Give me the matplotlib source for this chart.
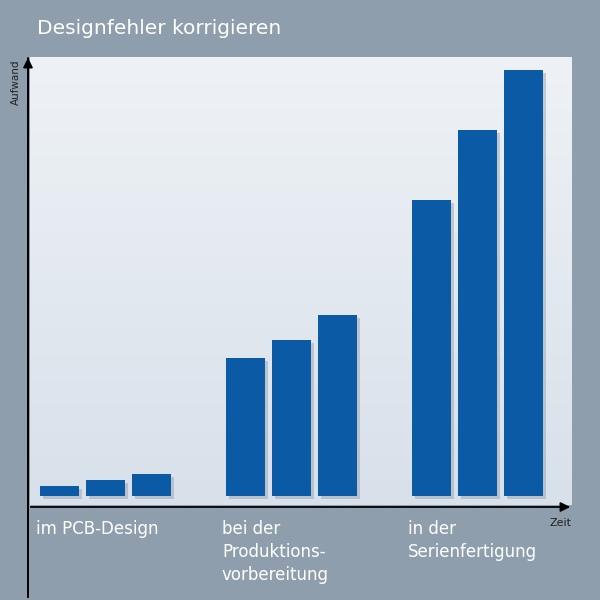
import numpy as np
import matplotlib
matplotlib.use("Agg")
import matplotlib.pyplot as plt

groups = ["im PCB-Design", "bei der\nProduktions-\nvorbereitung", "in der\nSerienfertigung"]
values = [[10, 16, 22], [138, 156, 181], [296, 366, 426]]

BG = "#8f9eac"
BAR = "#0a5aa6"

fig = plt.figure(figsize=(6, 6), dpi=100, facecolor=BG)
ax = fig.add_axes([30 / 600, 95 / 600, 542 / 600, 448 / 600])
ax.set_xlim(-29, 513)
ax.set_ylim(-9, 439)
grad = np.linspace(0, 1, 256).reshape(-1, 1)
ax.imshow(grad, extent=[-29, 513, -9, 439], aspect="auto", cmap=matplotlib.colors.LinearSegmentedColormap.from_list("p", ["#d8e0ea", "#eef2f6"]), origin="lower", zorder=0)
for g, vals in enumerate(values):
    for i, v in enumerate(vals):
        x = g * 186 + i * 46
        ax.bar(x + 3, v, width=39, bottom=-3, color="#9aa3ad", alpha=0.5, zorder=1)
        ax.bar(x, v, width=39, color=BAR, zorder=2)
    fig.text((30 + g * 186 - 29 + 10 + 30 - 30 + (0 if g == 0 else 0)) / 600 + 0.0, 0, "")
for s in ax.spines.values():
    s.set_visible(False)
ax.set_xticks([])
ax.set_yticks([])

# axis arrows
fig.patches.append(matplotlib.patches.FancyArrowPatch((28, 600 - 600), (28, 600 - 55), transform=None))
ar = dict(arrowstyle="-|>", color="black", lw=1.3, mutation_scale=14)
fig.add_artist(matplotlib.patches.FancyArrowPatch((28 / 600, 0.0), (28 / 600, 545 / 600), transform=fig.transFigure, **ar))
fig.add_artist(matplotlib.patches.FancyArrowPatch((28 / 600, 93 / 600), (573 / 600, 93 / 600), transform=fig.transFigure, **ar))

fig.text(37 / 600, 1 - 28 / 600, "Designfehler korrigieren", color="white", fontsize=14.5, va="center")
fig.text(16 / 600, 1 - 82 / 600, "Aufwand", color="#222222", fontsize=7.5, rotation=90, ha="center", va="center")
fig.text(560 / 600, 1 - 523 / 600, "Zeit", color="#222222", fontsize=8, ha="center", va="center")
for g, label in enumerate(groups):
    fig.text((36 + g * 186) / 600, 1 - 520 / 600, label, color="white", fontsize=12, va="top", linespacing=1.35)

fig.savefig("out.png", dpi=100, facecolor=BG)
